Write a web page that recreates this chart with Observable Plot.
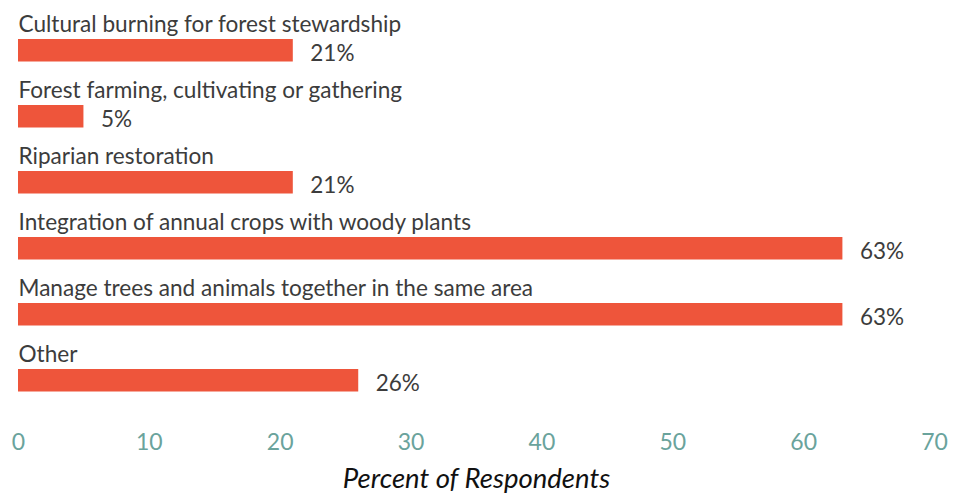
<!DOCTYPE html>
<html><head><meta charset="utf-8">
<script src="https://cdn.jsdelivr.net/npm/d3@7"></script>
<script src="https://cdn.jsdelivr.net/npm/@observablehq/plot@0.6"></script>
<style>
html,body{margin:0;padding:0;background:#fff;}
#chart svg{display:block;}
</style>
</head><body><div id="chart"></div>
<script>
const categories = [
  "Cultural burning for forest stewardship",
  "Forest farming, cultivating or gathering",
  "Riparian restoration",
  "Integration of annual crops with woody plants",
  "Manage trees and animals together in the same area",
  "Other"
];
const percents = [21, 5, 21, 63, 63, 26];
const xTicks = [0, 10, 20, 30, 40, 50, 60, 70];
const axisTitle = "Percent of Respondents";

const data = categories.map((c, i) => ({category: c, value: percents[i]}));
const font = "Lato, 'Open Sans', sans-serif";

const chart = Plot.plot({
  width: 953,
  height: 498,
  marginLeft: 18,
  marginRight: 19,
  marginTop: 4,
  marginBottom: 95,
  style: {fontFamily: font, background: "#fff"},
  x: {domain: [0, 70], ticks: xTicks},
  y: {domain: categories, padding: 0, axis: null},
  marks: [
    Plot.barX(data, {x: "value", y: "category", fill: "#ee553b", insetTop: 33, insetBottom: 10.5}),
    Plot.text(data, {x: 0, y: "category", text: "category", textAnchor: "start", dy: -15, fontSize: 22.6, fill: "#3c3c3c"}),
    Plot.text(data, {x: "value", y: "category", text: d => d.value + "%", textAnchor: "start", dx: 17, dy: 14, fontSize: 22.5, fill: "#3c3c3c"}),
    Plot.axisX({ticks: xTicks, tickSize: 0, tickPadding: 30, fontSize: 23, color: "#6aa39c", label: null}),
    Plot.text([axisTitle], {frameAnchor: "bottom", text: d => d, dy: 84, fontSize: 27.5, fontStyle: "italic", fill: "#111"})
  ]
});
document.getElementById("chart").appendChild(chart);
</script>
</body></html>
